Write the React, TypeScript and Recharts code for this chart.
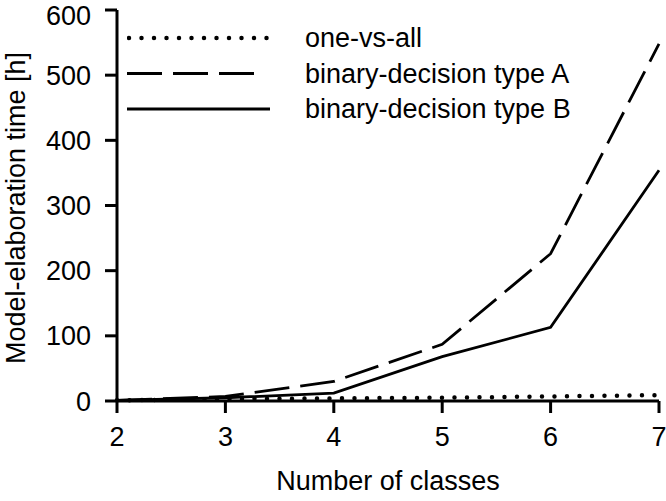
import React from 'react';
import { LineChart, Line, XAxis, YAxis, Legend } from 'recharts';

const classes = [2, 3, 4, 5, 6, 7];
const oneVsAll = [1, 3, 4, 5, 7, 9];
const typeA = [1, 7, 30, 87, 226, 548];
const typeB = [1, 5, 12, 68, 113, 354];

const xTicks = [2, 3, 4, 5, 6, 7];
const yTicks = [0, 100, 200, 300, 400, 500, 600];

const data = classes.map((c, i) => ({
  classes: c,
  oneVsAll: oneVsAll[i],
  typeA: typeA[i],
  typeB: typeB[i],
}));

const FONT = '"Liberation Sans", Arial, Helvetica, sans-serif';
const FS = 27;

const legendRows = [
  { label: 'one-vs-all', dash: '0 12.5', width: 4.5, cap: 'round' as const, x2: 270 - 127 },
  { label: 'binary-decision type A', dash: '35 11', width: 2.8, cap: 'butt' as const, x2: 257 - 127 },
  { label: 'binary-decision type B', dash: undefined, width: 2.8, cap: 'butt' as const, x2: 270 - 127 },
];

function LegendBox() {
  return (
    <svg width={470} height={110} style={{ display: 'block' }}>
      {legendRows.map((r, i) => {
        const y = 14 + i * 35.5;
        return (
          <g key={r.label}>
            <line x1={r.cap === 'round' ? 2 : 0} x2={r.x2} y1={y} y2={y} stroke="#000"
              strokeWidth={r.width} strokeDasharray={r.dash} strokeLinecap={r.cap} />
            <text x={178} y={y} dominantBaseline="central" fontSize={FS} fontFamily={FONT} fill="#000">{r.label}</text>
          </g>
        );
      })}
    </svg>
  );
}

// axis titles sit where the reference puts them
const YTitle = () => (
  <text x={25} y={208} transform="rotate(-90, 25, 208)" textAnchor="middle"
    fontSize={FS} fontFamily={FONT} fill="#000">Model-elaboration time [h]</text>
);
const XTitle = () => (
  <text x={388} y={490} textAnchor="middle" fontSize={FS} fontFamily={FONT} fill="#000">Number of classes</text>
);

export default function App() {
  return (
    <div style={{ position: 'absolute', left: 0, top: 0, width: 666, height: 501, background: '#fff' }}>
      <LineChart width={666} height={501} data={data} margin={{ top: 10, right: 7, left: 0, bottom: 0 }}>
        <XAxis
          type="number"
          dataKey="classes"
          domain={[2, 7]}
          ticks={xTicks}
          height={100}
          tickSize={12}
          tickMargin={14}
          axisLine={{ stroke: '#000', strokeWidth: 3 }}
          tickLine={{ stroke: '#000', strokeWidth: 3 }}
          tick={{ fill: '#000', fontSize: FS, fontFamily: FONT }}
          label={XTitle}
        />
        <XAxis xAxisId="top" orientation="top" type="number" dataKey="classes" domain={[2, 7]} height={0}
          tick={false} tickLine={false} axisLine={{ stroke: '#000', strokeWidth: 3 }} />
        <YAxis
          type="number"
          domain={[0, 600]}
          ticks={yTicks}
          width={117}
          tickSize={12}
          tickMargin={14}
          axisLine={{ stroke: '#000', strokeWidth: 3 }}
          tickLine={{ stroke: '#000', strokeWidth: 3 }}
          tick={{ fill: '#000', fontSize: FS, fontFamily: FONT }}
          label={YTitle}
        />
        <YAxis yAxisId="right" orientation="right" domain={[0, 600]} width={0}
          tick={false} tickLine={false} axisLine={{ stroke: '#000', strokeWidth: 3 }} />
        <Legend
          layout="vertical"
          align="center"
          verticalAlign="middle"
          content={() => <LegendBox />}
          wrapperStyle={{ position: 'absolute', left: 127, top: 24, width: 470, height: 110 }}
        />
        <Line type="linear" dataKey="oneVsAll" stroke="#000" strokeWidth={4.5} strokeDasharray="0 12.5"
          strokeLinecap="round" dot={false} activeDot={false} isAnimationActive={false} />
        <Line type="linear" dataKey="typeA" stroke="#000" strokeWidth={2.8} strokeDasharray="35 11"
          dot={false} activeDot={false} isAnimationActive={false} />
        <Line type="linear" dataKey="typeB" stroke="#000" strokeWidth={2.8}
          dot={false} activeDot={false} isAnimationActive={false} />
      </LineChart>
    </div>
  );
}
